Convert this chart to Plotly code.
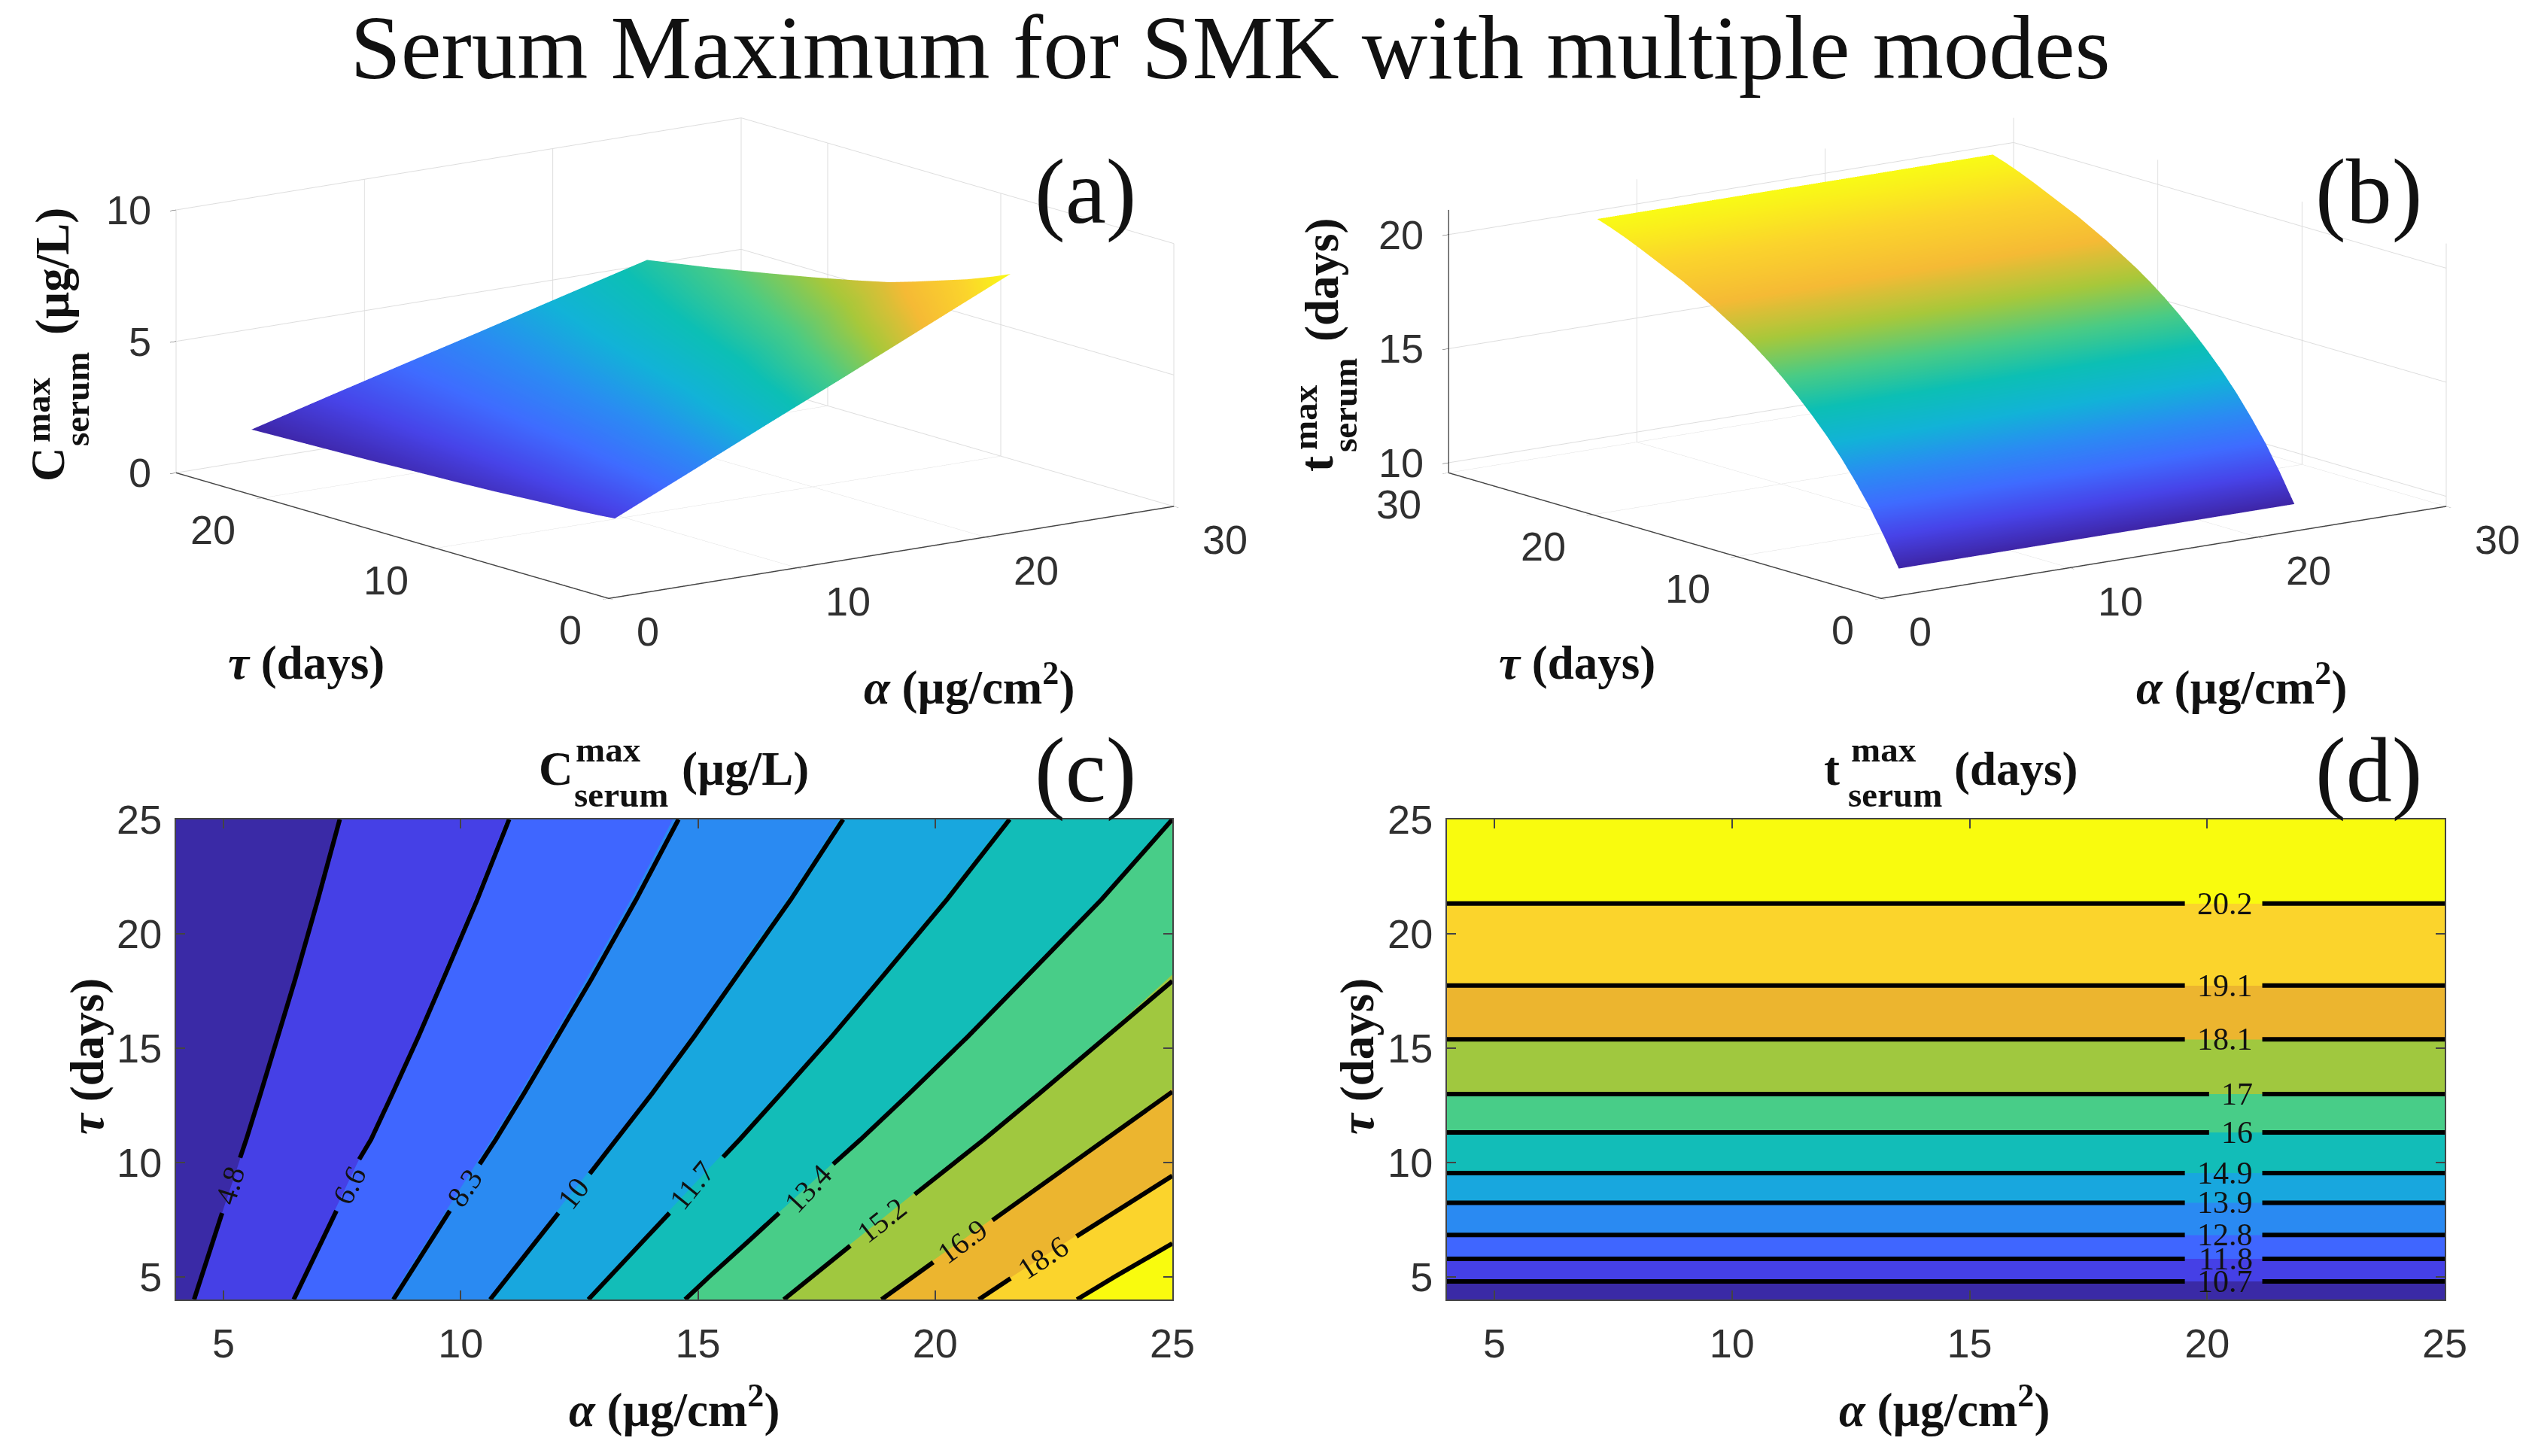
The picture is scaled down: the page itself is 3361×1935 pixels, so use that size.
import plotly.graph_objects as go

W, H = 3361, 1935
SERIF = "Liberation Serif"
SANS = "Liberation Sans"

# ---------- data ----------
PARULA_BANDS = ["#3a2aa6", "#4540e6", "#3f66ff", "#2a8af2", "#18a7de", "#12bdb8",
                "#48cd88", "#a0c83f", "#ecb52f", "#fbd42c", "#f9fb0e"]
PARULA = ["#3e26a8", "#4743e8", "#3f6bff", "#2a8cf2", "#12b2d8", "#0cbfb5",
          "#4acb85", "#a8c83a", "#f5ba35", "#fbd42c", "#f9fb15"]

alpha_c = [4, 8, 12, 16, 20, 25]
tau_c = [4, 5, 6.5, 8, 9.5, 11, 13, 15.5, 18, 21.5, 25]
c_contour = [
    [4.48, 7.81, 11.15, 14.48, 17.81, 21.98],
    [4.37, 7.59, 10.81, 14.03, 17.25, 21.28],
    [4.21, 7.27, 10.33, 13.39, 16.45, 20.28],
    [4.07, 6.98, 9.90, 12.81, 15.73, 19.38],
    [3.93, 6.72, 9.50, 12.29, 15.07, 18.55],
    [3.81, 6.48, 9.14, 11.81, 14.47, 17.80],
    [3.67, 6.20, 8.72, 11.25, 13.77, 16.93],
    [3.52, 5.89, 8.27, 10.64, 13.01, 15.98],
    [3.39, 5.64, 7.88, 10.13, 12.37, 15.18],
    [3.24, 5.33, 7.41, 9.50, 11.59, 14.20],
    [3.11, 5.07, 7.03, 8.99, 10.95, 13.40],
]
c_surface = [
    [1.81, 3.11, 4.42, 5.71, 7.02, 8.66],
    [1.75, 3.01, 4.28, 5.53, 6.79, 8.37],
    [1.68, 2.88, 4.09, 5.28, 6.48, 7.98],
    [1.63, 2.78, 3.93, 5.07, 6.22, 7.65],
    [1.57, 2.67, 3.76, 4.85, 5.95, 7.32],
    [1.51, 2.56, 3.61, 4.65, 5.70, 7.01],
    [1.45, 2.45, 3.46, 4.45, 5.45, 6.70],
    [1.39, 2.33, 3.28, 4.21, 5.16, 6.34],
    [1.32, 2.22, 3.11, 4.00, 4.89, 6.01],
    [1.25, 2.07, 2.90, 3.71, 4.54, 5.57],
    [1.18, 1.95, 2.71, 3.46, 4.23, 5.18],
]
# contour lines of panel c: (alpha, tau) with a gap for the label
c_line_alpha = [
    [4.38, 4.53, 4.77, 4.97, None, 5.35, 5.48, 5.78, 6.15, 6.51, 6.99, 7.45],
    [6.48, 6.71, 7.06, 7.38, None, 7.86, 8.11, 8.56, 9.11, 9.63, 10.35, 11.02],
    [8.58, 8.88, 9.35, 9.77, None, 10.40, 10.74, 11.33, 12.05, 12.75, 13.70, 14.59],
    [10.62, 10.99, 11.57, 12.06, None, 12.72, 13.29, 14.03, 14.92, 15.78, 16.96, 18.06],
    [12.69, 13.13, 13.82, 14.40, None, 15.53, 15.88, 16.75, 17.82, 18.84, 20.25, 21.57],
    [14.73, 15.24, 16.04, 16.71, None, 17.85, 18.43, 19.45, 20.69, 21.87, 23.51, 25],
    [16.81, 17.39, 18.21, None, 19.57, 20.11, 21.03, 22.19, 23.60, 25],
    [18.87, 19.53, 19.96, None, 21.21, 22.59, 23.61, 25],
    [20.92, 21.59, None, 22.98, 23.91, 25],
    [22.99, 23.79, 25],
]
c_line_tau = [
    [4, 5, 6.5, 7.78, None, 10.2, 11, 13, 15.5, 18, 21.5, 25],
    [4, 5, 6.5, 7.88, None, 10.13, 11, 13, 15.5, 18, 21.5, 25],
    [4, 5, 6.5, 7.88, None, 9.92, 11, 13, 15.5, 18, 21.5, 25],
    [4, 5, 6.5, 7.78, None, 9.5, 11, 13, 15.5, 18, 21.5, 25],
    [4, 5, 6.5, 7.78, None, 10.23, 11, 13, 15.5, 18, 21.5, 25],
    [4, 5, 6.5, 7.78, None, 9.92, 11, 13, 15.5, 18, 21.5, 25],
    [4, 5, 6.35, None, 8.6, 9.5, 11, 13, 15.5, 17.93],
    [4, 5, 5.63, None, 7.47, 9.5, 11, 13.09],
    [4, 4.92, None, 6.76, 8, 9.41],
    [4, 5, 6.45],
]
c_labels = ["4.8", "6.6", "8.3", "10", "11.7", "13.4", "15.2", "16.9", "18.6"]
c_label_alpha = [5.13, 7.65, 10.08, 12.38, 14.87, 17.32, 18.88, 20.58, 22.27]
c_label_tau = [9.0, 9.0, 8.9, 8.65, 9.0, 8.85, 7.47, 6.55, 5.84]
c_label_angle = [73, 63, 56, 52, 51, 47, 38, 36, 33]

alpha_d = [4, 14.5, 25]
tau_d = [4, 4.79, 5.78, 6.82, 8.23, 9.53, 11.31, 12.99, 15.38, 17.73, 21.32, 25]
t_values = [9.6, 10.7, 11.755, 12.81, 13.865, 14.92, 15.975, 17.03, 18.085, 19.14, 20.195, 21.1]
d_labels = ["10.7", "11.8", "12.8", "13.9", "14.9", "16", "17", "18.1", "19.1", "20.2"]
d_line_tau = tau_d[1:-1]
d_gap_left = [19.53, 19.53, 19.53, 19.53, 19.53, 20.04, 20.04, 19.53, 19.53, 19.53]
d_gap_right = 21.16
d_label_right = 21.0

# surface of panel b
alpha_b = [4, 25]
tau_b = [4, 5, 6, 7, 8, 9, 10, 11, 12, 13, 14, 15, 16, 17, 18, 19, 20, 21, 22, 23, 24, 25]
t_surface = [9.6, 10.8, 11.9, 12.85, 13.72, 14.5, 15.2, 15.85, 16.45, 17.0, 17.5, 17.95,
             18.35, 18.75, 19.1, 19.45, 19.75, 20.05, 20.35, 20.63, 20.88, 21.1]

x3_ticks = [0, 10, 20, 30]
y3a_ticks = [0, 10, 20]
z3a_ticks = [0, 5, 10]
y3b_ticks = [0, 10, 20, 30]
z3b_ticks = [10, 15, 20]
ticks2d = [5, 10, 15, 20, 25]

# ---------- helpers ----------
def px(x): return x / W
def py(y): return 1 - y / H

def note(x, y, text, size, font=SERIF, angle=0, color="#111111"):
    return dict(x=px(x), y=py(y), xref="paper", yref="paper", text=text, showarrow=False,
                xanchor="center", yanchor="middle", textangle=angle,
                font=dict(family=font, size=size, color=color))

def band_scale(cols):
    return [[i / (len(cols) - 1), c] for i, c in enumerate(cols)]

fig = go.Figure()
flat = dict(ambient=1, diffuse=0, specular=0, fresnel=0, roughness=1)

# ---------- 3D panels ----------
fig.add_trace(go.Surface(x=alpha_c, y=tau_c, z=c_surface, scene="scene", showscale=False,
                         colorscale=band_scale(PARULA), hoverinfo="skip", lighting=flat))
fig.add_trace(go.Surface(x=alpha_b, y=tau_b, z=[[v] * len(alpha_b) for v in t_surface], scene="scene2",
                         showscale=False, colorscale=band_scale(PARULA), hoverinfo="skip", lighting=flat))

# ---------- contour panels ----------
fig.add_trace(go.Contour(x=alpha_c, y=tau_c, z=c_contour, xaxis="x", yaxis="y", showscale=False,
                         colorscale=band_scale(PARULA_BANDS), hoverinfo="skip", line=dict(width=0),
                         contours=dict(coloring="fill", start=4.8, end=20.29, size=1.72, showlines=False)))
for a, t in zip(c_line_alpha, c_line_tau):
    fig.add_trace(go.Scatter(x=a, y=t, mode="lines", xaxis="x", yaxis="y", hoverinfo="skip",
                             showlegend=False, connectgaps=False, line=dict(color="black", width=6)))

fig.add_trace(go.Contour(x=alpha_d, y=tau_d, z=[[v] * len(alpha_d) for v in t_values], xaxis="x2", yaxis="y2",
                         showscale=False, colorscale=band_scale(PARULA_BANDS), hoverinfo="skip",
                         line=dict(width=0),
                         contours=dict(coloring="fill", start=10.698, end=20.2, size=1.055, showlines=False)))
for t, g in zip(d_line_tau, d_gap_left):
    fig.add_trace(go.Scatter(x=[4, g, None, d_gap_right, 25], y=[t, t, None, t, t], mode="lines",
                             xaxis="x2", yaxis="y2", hoverinfo="skip", showlegend=False,
                             line=dict(color="black", width=6)))

ann = []
for x, y, t in [(1442, 255, "(a)"), (3148, 255, "(b)"), (1442, 1024, "(c)"), (3148, 1024, "(d)")]:
    ann.append(note(x, y, t, 122))

BOLD = lambda s: f"<b>{s}</b>"
LBL = 63
SUB = 47
for xc in (1288, 2979):
    ann.append(note(xc, 909, BOLD("<i>α</i> (µg/cm<sup>2</sup>)"), LBL))
for xc in (407, 2096):
    ann.append(note(xc, 881, BOLD("<i>τ</i> (days)"), LBL))
for xc in (896, 2584):
    ann.append(note(xc, 1869, BOLD("<i>α</i> (µg/cm<sup>2</sup>)"), LBL))
for xc in (116, 1804):
    ann.append(note(xc, 1404, BOLD("<i>τ</i> (days)"), LBL, angle=-90))

# stacked labels
ann += [note(739, 1022, BOLD("C"), LBL), note(808, 996, BOLD("max"), SUB),
        note(825, 1056, BOLD("serum"), SUB), note(990, 1022, BOLD("(µg/L)"), LBL)]
ann += [note(2434, 1022, BOLD("t"), LBL), note(2503, 996, BOLD("max"), SUB),
        note(2518, 1056, BOLD("serum"), SUB), note(2679, 1022, BOLD("(days)"), LBL)]
ann += [note(64, 617, BOLD("C"), LBL, angle=-90), note(50, 545, BOLD("max"), SUB, angle=-90),
        note(102, 531, BOLD("serum"), SUB, angle=-90), note(70, 361, BOLD("(µg/L)"), LBL, angle=-90)]
ann += [note(1750, 617, BOLD("t"), LBL, angle=-90), note(1734, 555, BOLD("max"), SUB, angle=-90),
        note(1787, 539, BOLD("serum"), SUB, angle=-90), note(1757, 372, BOLD("(days)"), LBL, angle=-90)]

for a, t, s, ang in zip(c_label_alpha, c_label_tau, c_labels, c_label_angle):
    ann.append(dict(x=a, y=t, xref="x", yref="y", text=s, showarrow=False, textangle=-ang,
                    font=dict(family=SERIF, size=40, color="#111111")))
for t, s in zip(d_line_tau, d_labels):
    ann.append(dict(x=d_label_right, y=t, xref="x2", yref="y2", text=s, showarrow=False, xanchor="right",
                    font=dict(family=SERIF, size=42, color="#111111")))

def axis2d(domain, anchor, tickvals, rng, standoff):
    return dict(domain=domain, anchor=anchor, range=rng, tickvals=tickvals, ticks="inside", ticklen=12,
                tickwidth=2, tickcolor="#444444", showline=True, linecolor="#444444", linewidth=2,
                mirror="ticks", showgrid=False, zeroline=False, ticklabelstandoff=standoff,
                tickfont=dict(family=SANS, size=54, color="#303030"))

xd1 = [px(234), px(1558)]
xd2 = [px(1923), px(3249)]
yd = [py(1727), py(1089)]

def axis3d(rng, tickvals, line=True, linecolor="#444444"):
    return dict(range=rng, tickvals=tickvals, title=dict(text=""), showbackground=False,
                showgrid=True, gridcolor="#dddddd", gridwidth=2, showline=line, linecolor=linecolor,
                linewidth=3, zeroline=False, ticks="outside", ticklen=10, tickcolor="#444444",
                showticklabels=False, showspikes=False)

def tick_notes(x_ticks, y_ticks, z_ticks, ymax, zmin):
    out = []
    base = dict(showarrow=False, font=dict(family=SANS, size=54, color="#303030"))
    for v in x_ticks:
        out.append(dict(x=v, y=0, z=zmin, text=str(v), xanchor="left", xshift=36, yshift=-44, **base))
    for v in y_ticks:
        out.append(dict(x=0, y=v, z=zmin, text=str(v), xanchor="right", xshift=-33, yshift=-42, **base))
    for v in z_ticks:
        out.append(dict(x=0, y=ymax, z=v, text=str(v), xanchor="right", xshift=-30, yshift=0, **base))
    return out

EYE_LEN = 4.0
eye = dict(x=-0.585 * EYE_LEN, y=-0.781 * EYE_LEN, z=0.2175 * EYE_LEN)
camera = dict(eye=eye, up=dict(x=0, y=0, z=1), center=dict(x=0, y=0, z=0),
              projection=dict(type="orthographic"))
asp = dict(x=2.04, y=2.085, z=0.778)

fig.update_layout(
    width=W, height=H, margin=dict(l=0, r=0, t=0, b=0, autoexpand=False),
    paper_bgcolor="white", plot_bgcolor="white", showlegend=False, annotations=ann,
    title=dict(text="Serum Maximum for SMK with multiple modes", x=px(1635), y=py(62), xref="paper",
               yref="container", xanchor="center", yanchor="middle",
               font=dict(family=SERIF, size=121, color="#111111")),
    xaxis=axis2d(xd1, "y", ticks2d, [4, 25], 10), yaxis=axis2d(yd, "x", ticks2d, [4, 25], 6),
    xaxis2=axis2d(xd2, "y2", ticks2d, [4, 25], 10), yaxis2=axis2d(yd, "x2", ticks2d, [4, 25], 6),
    scene=dict(domain=dict(x=[px(196.5), px(1596.5)], y=[py(936), py(16)]), camera=camera,
               aspectmode="manual", aspectratio=asp,
               xaxis=axis3d([0, 30], x3_ticks), yaxis=axis3d([0, 25], y3a_ticks),
               zaxis=axis3d([0, 10], z3a_ticks, line=False),
               annotations=tick_notes(x3_ticks, y3a_ticks, z3a_ticks, 25, 0)),
    scene2=dict(domain=dict(x=[px(1887.5), px(3287.5)], y=[py(936), py(16)]), camera=camera,
                aspectmode="manual", aspectratio=asp,
                xaxis=axis3d([0, 30], x3_ticks), yaxis=axis3d([0, 30], y3b_ticks),
                zaxis=axis3d([9.56, 21.08], z3b_ticks, linecolor="#111111"),
                annotations=tick_notes(x3_ticks, y3b_ticks, z3b_ticks, 30, 9.56)),
)

fig.write_html("out.html", config=dict(displayModeBar=False),
               post_script="document.body.style.margin='0';document.body.style.overflow='hidden';")
